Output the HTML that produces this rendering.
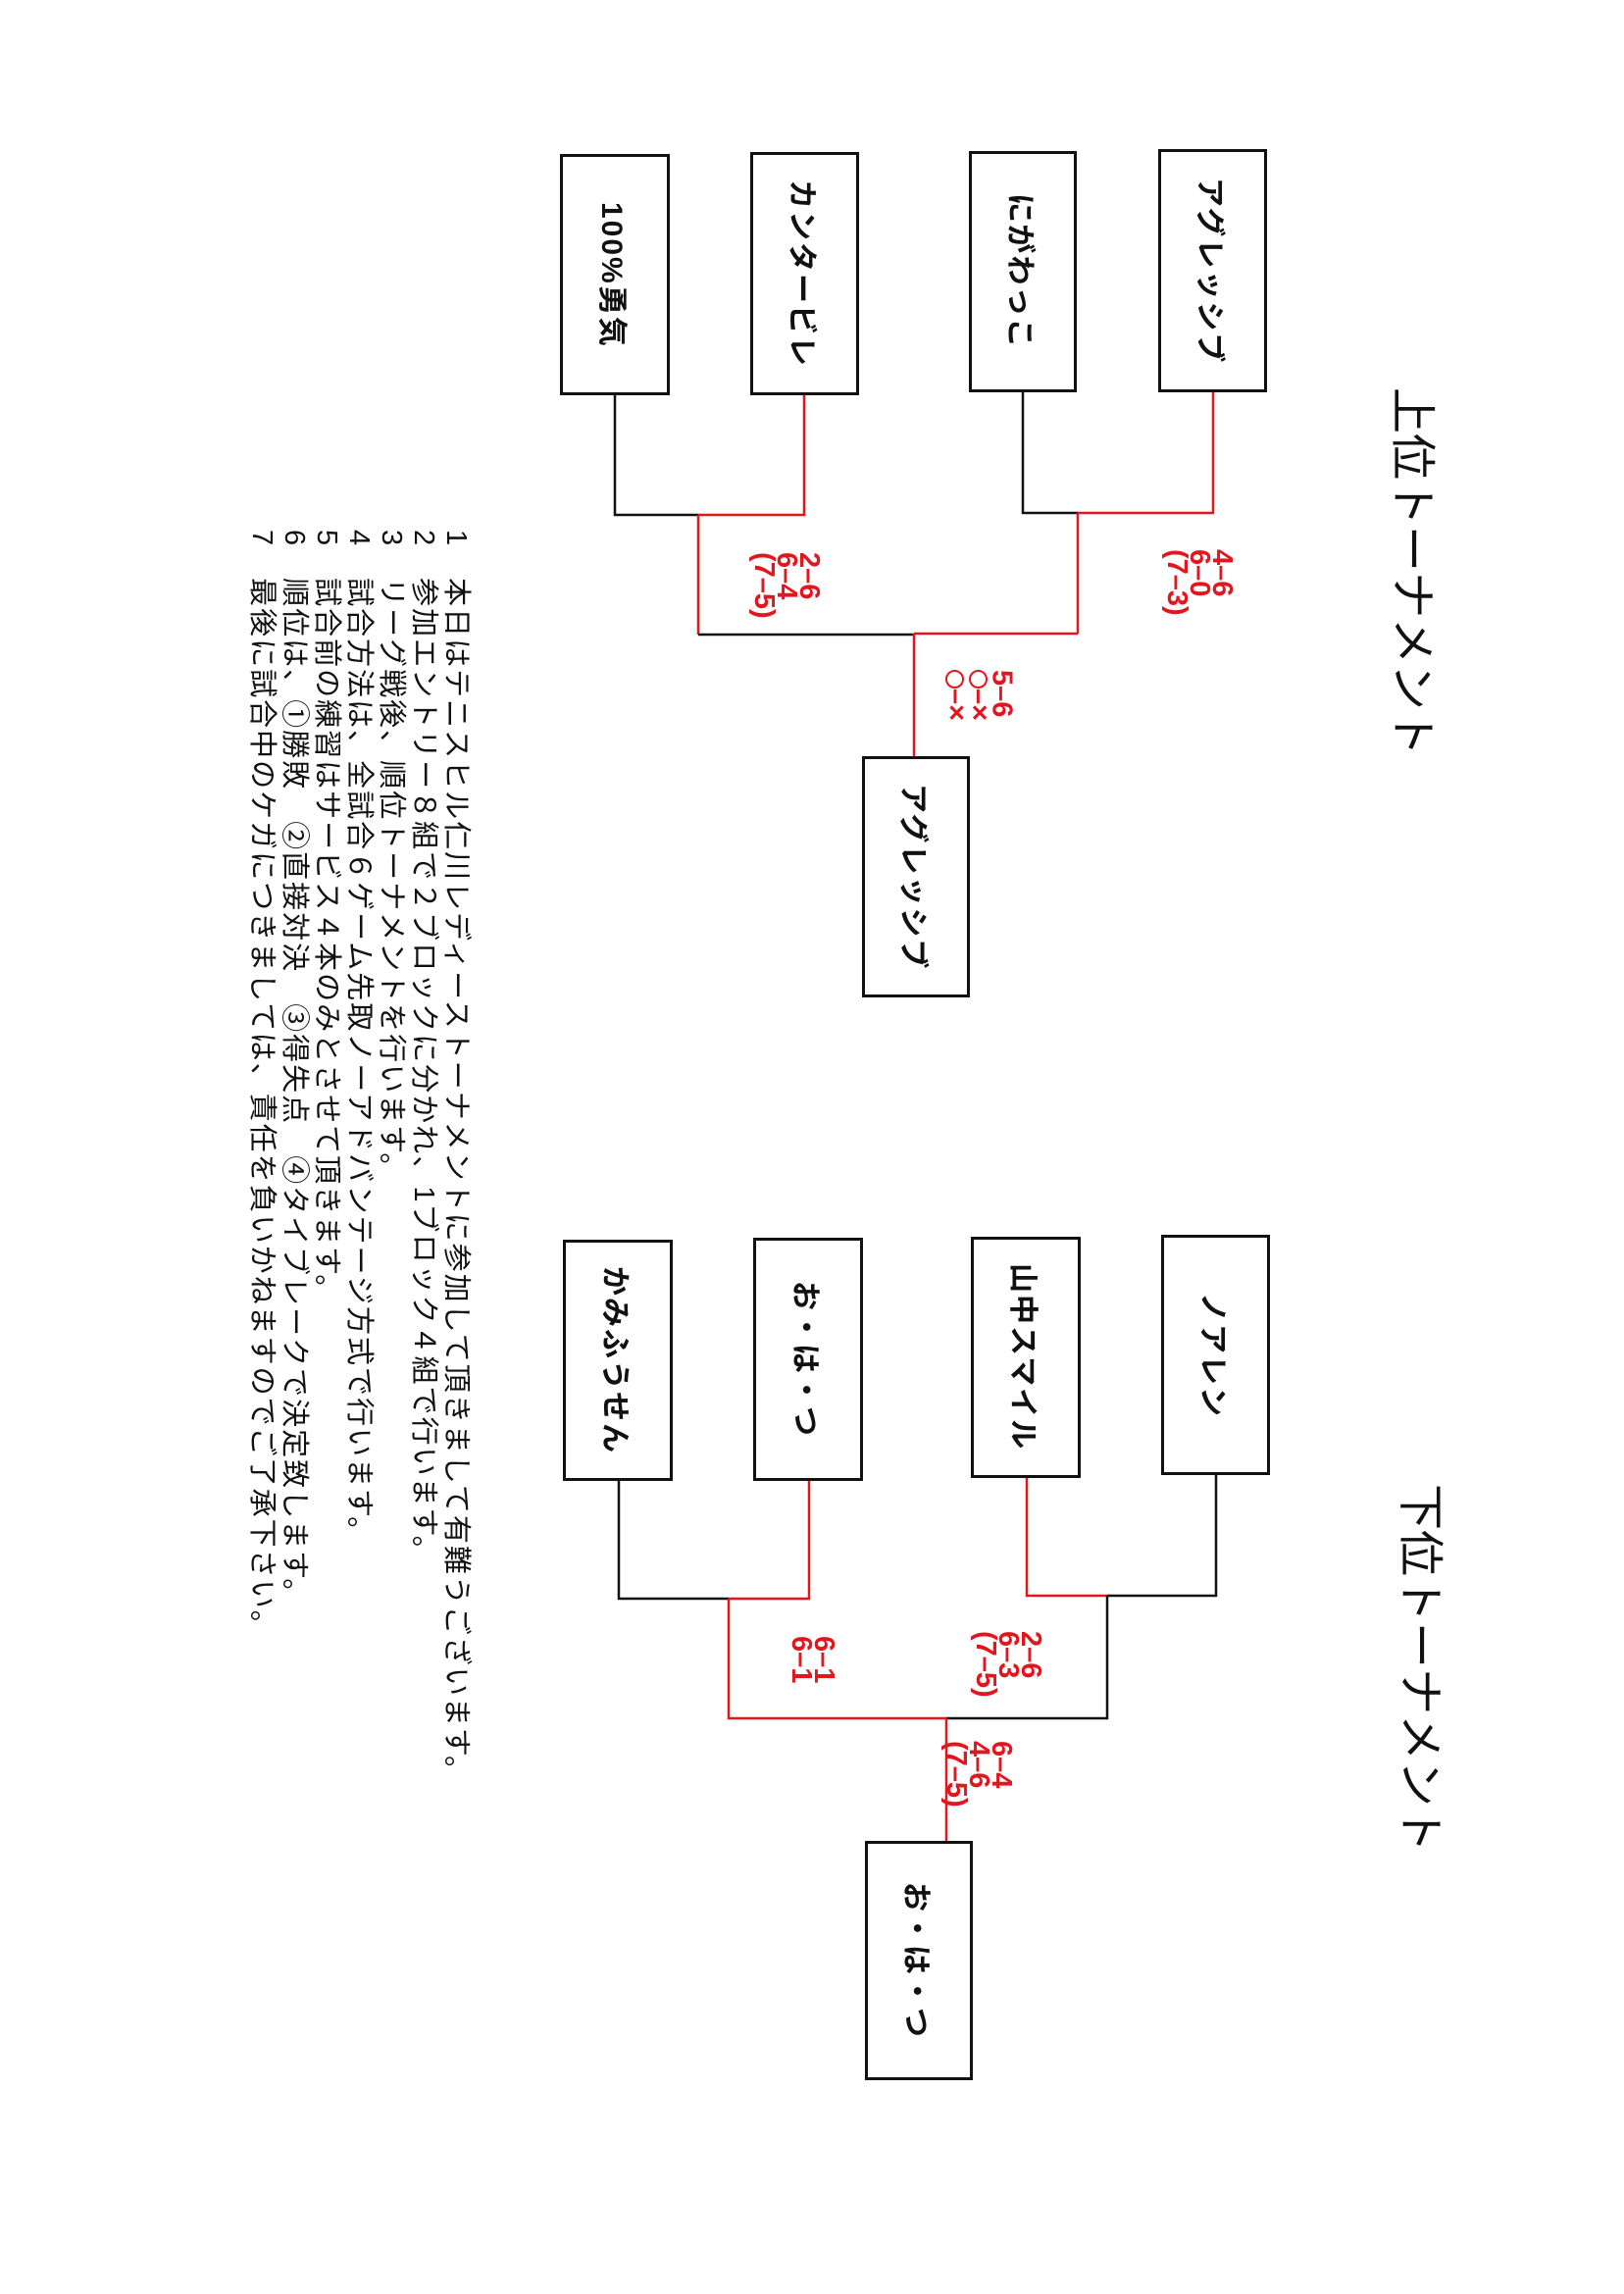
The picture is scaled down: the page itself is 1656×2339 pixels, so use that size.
<!DOCTYPE html>
<html><head><meta charset="utf-8"><style>
html,body{margin:0;padding:0;background:#fff;}
body{width:1656px;height:2339px;position:relative;overflow:hidden;font-family:"Liberation Sans","Noto Sans CJK JP",sans-serif;}
.box{position:absolute;border:3px solid #111;box-sizing:border-box;display:flex;align-items:center;justify-content:center;background:#fff;}
.v{writing-mode:vertical-rl;text-orientation:sideways;}
.box span{font-size:30px;font-weight:bold;color:#111;letter-spacing:2px;}
.sc{position:absolute;color:#e3161d;font-size:29px;line-height:23px;font-weight:bold;}
.sc i{display:inline-block;width:19px;height:19px;border:2.5px solid #e3161d;border-radius:50%;box-sizing:border-box;margin:0 2px;vertical-align:middle;}
.title{position:absolute;font-size:47px;color:#111;line-height:50px;}
.notes{position:absolute;left:250px;top:540px;font-size:29px;letter-spacing:2px;line-height:33px;color:#111;height:1400px;}
</style></head><body>
<svg width="1656" height="2339" style="position:absolute;left:0;top:0" xmlns="http://www.w3.org/2000/svg">
<g stroke-width="2.5" fill="none">
<path d="M627 403V525H712" stroke="#111"/>
<path d="M712 525H820V403" stroke="#e3161d"/>
<path d="M1043 400V523H1099" stroke="#111"/>
<path d="M1099 523H1237V400" stroke="#e3161d"/>
<path d="M712 525V647" stroke="#e3161d"/>
<path d="M1099 523V646" stroke="#e3161d"/>
<path d="M712 647H932" stroke="#111"/>
<path d="M932 646H1099" stroke="#e3161d"/>
<path d="M932 646V771" stroke="#e3161d"/>
<path d="M631 1510V1630H743" stroke="#111"/>
<path d="M743 1630H825V1510" stroke="#e3161d"/>
<path d="M1047 1507V1627H1129" stroke="#e3161d"/>
<path d="M1129 1627H1240V1504" stroke="#111"/>
<path d="M743 1630V1752H965" stroke="#e3161d"/>
<path d="M965 1752H1129V1627" stroke="#111"/>
<path d="M965 1752V1877" stroke="#e3161d"/>
</g></svg>

<div class="box" style="left:571px;top:157px;width:112px;height:246px"><span class="v">100%勇気</span></div>
<div class="box" style="left:765px;top:155px;width:111px;height:248px"><span class="v">カンタービレ</span></div>
<div class="box" style="left:988px;top:154px;width:110px;height:246px"><span class="v">にがわっこ</span></div>
<div class="box" style="left:1181px;top:152px;width:111px;height:248px"><span class="v">アグレッシブ</span></div>
<div class="box" style="left:879px;top:771px;width:110px;height:246px"><span class="v">アグレッシブ</span></div>

<div class="box" style="left:574px;top:1264px;width:112px;height:246px"><span class="v">かみふうせん</span></div>
<div class="box" style="left:768px;top:1262px;width:112px;height:248px"><span class="v">お・は・つ</span></div>
<div class="box" style="left:990px;top:1261px;width:112px;height:246px"><span class="v">山中スマイル</span></div>
<div class="box" style="left:1184px;top:1259px;width:111px;height:245px"><span class="v">ノアレン</span></div>
<div class="box" style="left:882px;top:1877px;width:110px;height:244px"><span class="v">お・は・つ</span></div>

<div class="sc v" style="left:1188px;top:560px">4–6<br>6–0<br>(7–3)</div>
<div class="sc v" style="left:767px;top:563px">2–6<br>6–4<br>(7–5)</div>
<div class="sc v" style="left:962px;top:683px">5–6<br><i></i>–×<br><i></i>–×</div>
<div class="sc v" style="left:993px;top:1663px">2–6<br>6–3<br>(7–5)</div>
<div class="sc v" style="left:805px;top:1668px">6–1<br>6–1</div>
<div class="sc v" style="left:963px;top:1775px">6–4<br>4–6<br>(7–5)</div>

<div class="title v" style="left:1415px;top:395px">上位トーナメント</div>
<div class="title v" style="left:1423px;top:1513px">下位トーナメント</div>

<div class="notes v">1　本日はテニスヒル仁川レディーストーナメントに参加して頂きまして有難うございます。<br>2　参加エントリー８組で２ブロックに分かれ、1ブロック４組で行います。<br>3　リーグ戦後、順位トーナメントを行います。<br>4　試合方法は、全試合６ゲーム先取ノーアドバンテージ方式で行います。<br>5　試合前の練習はサービス４本のみとさせて頂きます。<br>6　順位は、①勝敗　②直接対決　③得失点　④タイブレークで決定致します。<br>7　最後に試合中のケガにつきましては、責任を負いかねますのでご了承下さい。</div>
</body></html>
